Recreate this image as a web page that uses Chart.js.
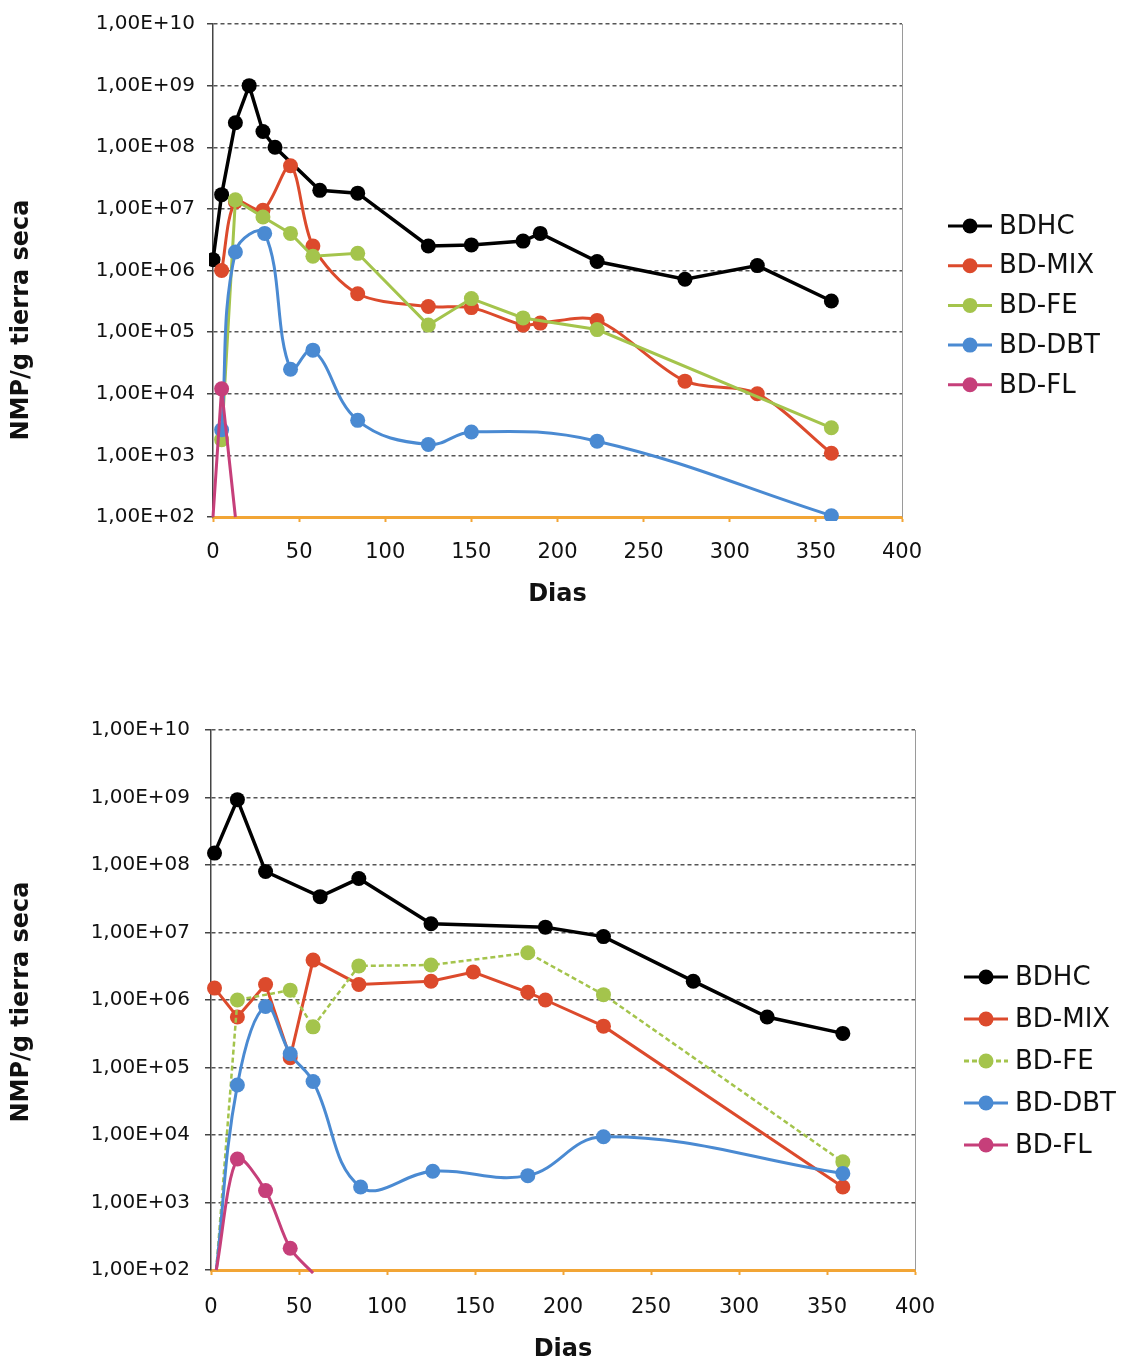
<!DOCTYPE html>
<html>
<head>
<meta charset="utf-8">
<script src="https://cdn.jsdelivr.net/npm/chart.js@4.4.1/dist/chart.umd.min.js"></script>
<style>
  body { margin: 0; background: #fff; }
  #wrap1 { position: absolute; left: 0; top: 0; width: 1124px; height: 620px; }
  #wrap2 { position: absolute; left: 0; top: 660px; width: 1124px; height: 702px; }
</style>
</head>
<body>
<div id="wrap1"><canvas id="chart1" width="1124" height="620"></canvas></div>
<div id="wrap2"><canvas id="chart2" width="1124" height="702"></canvas></div>
<script>
// series names and colours
var seriesNames = ['BDHC', 'BD-MIX', 'BD-FE', 'BD-DBT', 'BD-FL'];
var seriesColors = ['#000000', '#dc4a2c', '#a4c44c', '#4a8ad2', '#c63f7a'];
var axisOrange = '#f2a535';

var yTicks = [1e2, 1e3, 1e4, 1e5, 1e6, 1e7, 1e8, 1e9, 1e10];
var xTicks = [0, 50, 100, 150, 200, 250, 300, 350, 400];

// ---- chart 1 (top) ----
var c1DaysBdhc = [0, 5, 13, 21, 29, 36, 62, 84, 125, 150, 180, 190, 223, 274, 316, 359];
var c1Bdhc = [1.5e6, 1.7e7, 2.5e8, 1.0e9, 1.8e8, 1.0e8, 2.0e7, 1.8e7, 2.5e6, 2.6e6, 3.0e6, 4.0e6, 1.4e6, 7.2e5, 1.2e6, 3.2e5];
var c1DaysMix = [5, 13, 29, 45, 58, 84, 125, 150, 180, 190, 223, 274, 316, 359];
var c1Mix = [1.0e6, 1.3e7, 9.5e6, 5.0e7, 2.5e6, 4.2e5, 2.6e5, 2.5e5, 1.3e5, 1.4e5, 1.55e5, 1.6e4, 1.0e4, 1.08e3];
var c1DaysFe = [5, 13, 29, 45, 58, 84, 125, 150, 180, 223, 359];
var c1Fe = [1.8e3, 1.4e7, 7.4e6, 4.0e6, 1.7e6, 1.9e6, 1.3e5, 3.5e5, 1.7e5, 1.1e5, 2.8e3];
var c1DaysDbt = [5, 13, 30, 45, 58, 84, 125, 150, 223, 359];
var c1Dbt = [2.6e3, 2.0e6, 4.0e6, 2.5e4, 5.1e4, 3.7e3, 1.5e3, 2.4e3, 1.7e3, 1.05e2];
var c1DaysFl = [0, 5, 13];
var c1Fl = [100, 1.2e4, 100];

// ---- chart 2 (bottom) ----
var c2DaysBdhc = [2, 15, 31, 62, 84, 125, 190, 223, 274, 316, 359];
var c2Bdhc = [1.5e8, 9.3e8, 8.0e7, 3.4e7, 6.3e7, 1.35e7, 1.2e7, 8.7e6, 1.9e6, 5.6e5, 3.2e5];
var c2DaysMix = [2, 15, 31, 45, 58, 84, 125, 149, 180, 190, 223, 359];
var c2Mix = [1.5e6, 5.6e5, 1.7e6, 1.4e5, 3.9e6, 1.7e6, 1.9e6, 2.6e6, 1.3e6, 1.0e6, 4.1e5, 1.7e3];
var c2DaysFe = [3, 15, 45, 58, 84, 125, 180, 223, 359];
var c2Fe = [100, 1.0e6, 1.4e6, 4.0e5, 3.2e6, 3.3e6, 5.0e6, 1.2e6, 4.0e3];
var c2DaysDbt = [3, 15, 31, 45, 58, 85, 126, 180, 223, 359];
var c2Dbt = [100, 5.5e4, 8.0e5, 1.6e5, 6.2e4, 1.7e3, 2.9e3, 2.5e3, 9.4e3, 2.7e3];
var c2DaysFl = [3, 15, 31, 45, 58];
var c2Fl = [100, 4.4e3, 1.5e3, 2.1e2, 90];

function pts(days, vals) {
    var out = [];
    for (var i = 0; i < days.length; i++) out.push({x: days[i], y: vals[i]});
    return out;
}

// endpoints sitting on the axis have no marker
function radii(vals, r) {
    return vals.map(function (v) { return v <= 100 ? 0 : r; });
}

function makeSet(idx, days, vals, extra) {
    var ds = {
        label: seriesNames[idx],
        data: pts(days, vals),
        borderColor: seriesColors[idx],
        backgroundColor: seriesColors[idx],
        borderWidth: idx === 0 ? 3.5 : 3,
        pointRadius: radii(vals, 7.5),
        pointBorderWidth: 0,
        tension: 0,
        order: 4 - idx,   // later series drawn on top, like the original
        clip: 4
    };
    for (var k in extra) ds[k] = extra[k];
    return ds;
}

function fmtExp(v) {
    var e = Math.round(Math.log10(v));
    return '1,00E+' + (e < 10 ? '0' : '') + e;
}

// legend + y title + right frame
var decorPlugin = {
    id: 'decor',
    afterDraw: function (chart) {
        var o = chart.options.plugins.decor;
        var ctx = chart.ctx;
        var a = chart.chartArea;
        ctx.save();
        ctx.strokeStyle = '#9a9a9a';
        ctx.lineWidth = 1;
        ctx.beginPath();
        ctx.moveTo(a.right + 0.5, a.top);
        ctx.lineTo(a.right + 0.5, a.bottom);
        ctx.stroke();

        // y title
        ctx.translate(o.titleX, o.titleY);
        ctx.rotate(-Math.PI / 2);
        ctx.font = 'bold 24px "DejaVu Sans"';
        ctx.fillStyle = '#111';
        ctx.textAlign = 'center';
        ctx.textBaseline = 'middle';
        ctx.fillText('NMP/g tierra seca', 0, 0);
        ctx.restore();

        // legend
        ctx.save();
        var sets = chart.data.datasets;
        for (var i = 0; i < sets.length; i++) {
            var ds = sets[i];
            var y = o.legY + i * o.legGap;
            ctx.strokeStyle = ds.borderColor;
            ctx.lineWidth = 3;
            ctx.setLineDash(ds.borderDash || []);
            ctx.beginPath();
            ctx.moveTo(o.legX, y);
            ctx.lineTo(o.legX + o.legLen, y);
            ctx.stroke();
            ctx.setLineDash([]);
            ctx.fillStyle = ds.backgroundColor;
            ctx.beginPath();
            ctx.arc(o.legX + o.legLen / 2, y, 7.5, 0, Math.PI * 2);
            ctx.fill();
            ctx.fillStyle = '#111';
            ctx.font = '26px "DejaVu Sans"';
            ctx.textAlign = 'left';
            ctx.textBaseline = 'middle';
            ctx.fillText(ds.label, o.legX + o.legLen + 7, y + 1);
        }
        ctx.restore();
    }
};

function makeChart(id, datasets, geo) {
    return new Chart(document.getElementById(id), {
        type: 'line',
        data: {datasets: datasets},
        plugins: [decorPlugin],
        options: {
            responsive: false,
            animation: false,
            layout: {padding: {left: 0, top: geo.top, right: geo.right, bottom: 0}},
            plugins: {
                legend: {display: false},
                tooltip: {enabled: false},
                decor: geo.decor
            },
            scales: {
                x: {
                    type: 'linear',
                    min: 0,
                    max: 400,
                    afterBuildTicks: function (s) { s.ticks = xTicks.map(function (v) { return {value: v}; }); },
                    afterFit: function (s) { s.height = geo.xHeight; },
                    grid: {drawOnChartArea: false, drawTicks: true, tickLength: 5, color: axisOrange, tickWidth: 2},
                    border: {color: axisOrange, width: 3},
                    ticks: {color: '#111', padding: geo.xPad, font: {family: 'DejaVu Sans', size: 21}},
                    title: {display: true, text: 'Dias', color: '#111', padding: {top: 0, bottom: geo.titlePad},
                        font: {family: 'DejaVu Sans', size: 24, weight: 'bold', lineHeight: 1}}
                },
                y: {
                    type: 'logarithmic',
                    min: 1e2,
                    max: 1e10,
                    afterBuildTicks: function (s) { s.ticks = yTicks.map(function (v) { return {value: v}; }); },
                    afterFit: function (s) { s.width = geo.yWidth; },
                    grid: {color: '#555', lineWidth: 1.5, tickLength: 6, tickColor: '#444', tickWidth: 1.5},
                    border: {color: '#444', width: 1.5, dash: [4, 3]},
                    ticks: {color: '#111', padding: geo.yPad, font: {family: 'DejaVu Sans', size: 20},
                        callback: function (v) { return fmtExp(v); }}
                }
            }
        }
    });
}

makeChart('chart1', [
    makeSet(0, c1DaysBdhc, c1Bdhc, {}),
    makeSet(1, c1DaysMix, c1Mix, {tension: 0.3}),
    makeSet(2, c1DaysFe, c1Fe, {}),
    makeSet(3, c1DaysDbt, c1Dbt, {tension: 0.4}),
    makeSet(4, c1DaysFl, c1Fl, {})
], {
    top: 24, right: 222, xHeight: 103, yWidth: 213, xPad: 18, yPad: 12, titlePad: 13,
    decor: {titleX: 22, titleY: 320, legX: 948, legY: 226, legGap: 39.7, legLen: 44}
});

makeChart('chart2', [
    makeSet(0, c2DaysBdhc, c2Bdhc, {}),
    makeSet(1, c2DaysMix, c2Mix, {}),
    makeSet(2, c2DaysFe, c2Fe, {borderDash: [5, 3], borderWidth: 2.5}),
    makeSet(3, c2DaysDbt, c2Dbt, {tension: 0.4}),
    makeSet(4, c2DaysFl, c2Fl, {tension: 0.3})
], {
    top: 70, right: 209, xHeight: 92, yWidth: 211, xPad: 20, yPad: 15, titlePad: 0,
    decor: {titleX: 22, titleY: 342, legX: 964, legY: 317, legGap: 42, legLen: 44}
});
</script>
</body>
</html>
